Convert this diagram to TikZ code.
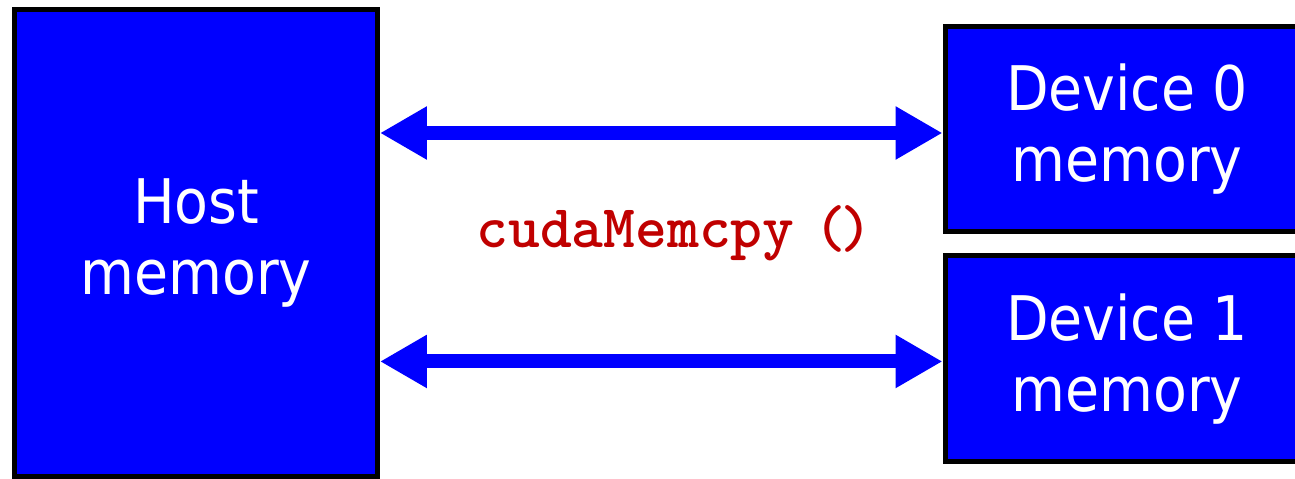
\documentclass[tikz,border=0pt]{standalone}
\usepackage{fontspec}
\usepackage{tikz}
\usetikzlibrary{arrows.meta}
\usetikzlibrary{positioning}

\newfontfamily\boxfont{DejaVu Sans Condensed}
\definecolor{memblue}{RGB}{0,0,255}
\definecolor{callred}{RGB}{192,0,0}

\begin{document}
\begin{tikzpicture}
  [x=0.02cm,y=-0.02cm,
   membox/.style={rectangle,
                  draw=black,
                  line width=0.1cm,
                  fill=memblue,
                  text=white,
                  align=center,
                  font=\boxfont\fontsize{35pt}{40pt}\selectfont,
                  inner sep=0pt},
   devbox/.style={membox,
                  minimum width=7.28cm,
                  minimum height=4.12cm},
   memarrow/.style={{Triangle[length=0.94cm,width=1cm]}-{Triangle[length=0.94cm,width=1cm]},
                    draw=memblue,
                    line width=0.28cm},
   callnode/.style={font=\ttfamily\bfseries\fontsize{34.5pt}{38pt}\selectfont,
                    text=callred,
                    anchor=base west,
                    inner sep=0pt}]
  \useasboundingbox (0,0) rectangle (1295,479);
  \clip (0,0) rectangle (1295,479);

  \node[membox, minimum width=7.26cm, minimum height=9.34cm] (host) at (196,243) {Host\\memory};
  \node[devbox] (dev0) at (1127,129) {Device 0\\memory};
  \node[devbox, below=0.38cm of dev0] (dev1) {Device 1\\memory};

  % copies both ways between host and each device
  \coordinate (up) at ([yshift=-0.08cm]dev0.west);
  \coordinate (down) at ([yshift=-0.05cm]dev1.west);
  \draw[memarrow] (host.east |- up) -- (up);
  \draw[memarrow] (host.east |- down) -- (down);

  \node[callnode] (call) at (476,248) {cudaMemcpy\hspace{0.4cm}(\hspace{-0.12cm})};
\end{tikzpicture}
\end{document}
